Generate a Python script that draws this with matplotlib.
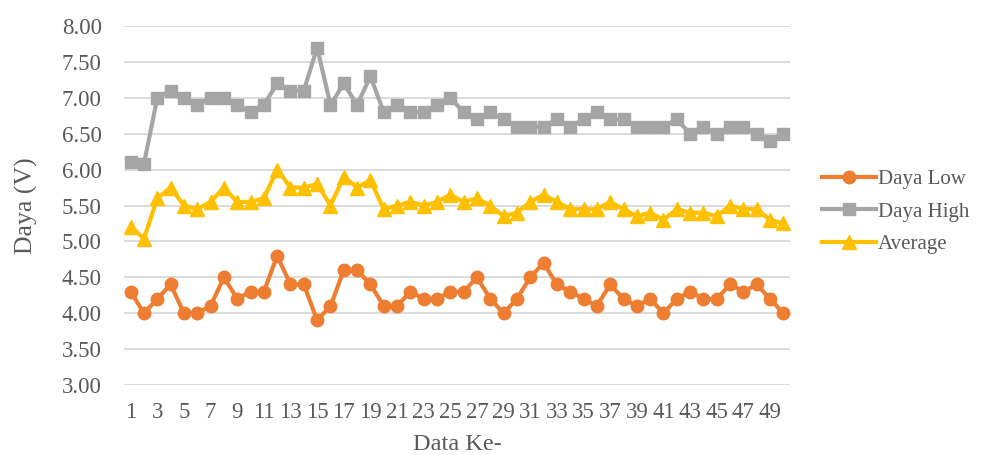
import matplotlib.pyplot as plt
from matplotlib.ticker import MultipleLocator, FormatStrFormatter

# readings for each sample
data_ke = list(range(1, 51))
daya_low = [4.3, 4.0, 4.2, 4.4, 4.0, 4.0, 4.1, 4.5, 4.2, 4.3,
            4.3, 4.8, 4.4, 4.4, 3.9, 4.1, 4.6, 4.6, 4.4, 4.1,
            4.1, 4.3, 4.2, 4.2, 4.3, 4.3, 4.5, 4.2, 4.0, 4.2,
            4.5, 4.7, 4.4, 4.3, 4.2, 4.1, 4.4, 4.2, 4.1, 4.2,
            4.0, 4.2, 4.3, 4.2, 4.2, 4.4, 4.3, 4.4, 4.2, 4.0]
daya_high = [6.1, 6.08, 7.0, 7.1, 7.0, 6.9, 7.0, 7.0, 6.9, 6.8,
             6.9, 7.2, 7.1, 7.1, 7.7, 6.9, 7.2, 6.9, 7.3, 6.8,
             6.9, 6.8, 6.8, 6.9, 7.0, 6.8, 6.7, 6.8, 6.7, 6.6,
             6.6, 6.6, 6.7, 6.6, 6.7, 6.8, 6.7, 6.7, 6.6, 6.6,
             6.6, 6.7, 6.5, 6.6, 6.5, 6.6, 6.6, 6.5, 6.4, 6.5]
average = [5.2, 5.04, 5.6, 5.75, 5.5, 5.45, 5.55, 5.75, 5.55, 5.55,
           5.6, 6.0, 5.75, 5.75, 5.8, 5.5, 5.9, 5.75, 5.85, 5.45,
           5.5, 5.55, 5.5, 5.55, 5.65, 5.55, 5.6, 5.5, 5.35, 5.4,
           5.55, 5.65, 5.55, 5.45, 5.45, 5.45, 5.55, 5.45, 5.35, 5.4,
           5.3, 5.45, 5.4, 5.4, 5.35, 5.5, 5.45, 5.45, 5.3, 5.25]

plt.rcParams['font.family'] = ['Liberation Serif', 'DejaVu Serif']
text_color = "#595959"

fig = plt.figure(figsize=(9.87, 4.55), dpi=100)
ax = fig.add_axes([124 / 987, 1 - 385 / 455, 666 / 987, 359 / 455])

ax.plot(data_ke, daya_low, color="#ED7D31", lw=3, marker="o", ms=9, label="Daya Low")
ax.plot(data_ke, daya_high, color="#A5A5A5", lw=3, marker="s", ms=8.5, label="Daya High")
ax.plot(data_ke, average, color="#FFC000", lw=3, marker="^", ms=10, label="Average")

ax.set_xlim(0.5, 50.5)
ax.set_ylim(3, 8)
ax.yaxis.set_major_locator(MultipleLocator(0.5))
ax.yaxis.set_major_formatter(FormatStrFormatter("%.2f"))
ax.set_xticks(data_ke[::2])
ax.grid(axis="y", color="#D9D9D9", lw=1.3)
ax.set_axisbelow(True)
for side in ["top", "right", "left", "bottom"]:
    ax.spines[side].set_visible(False)
ax.tick_params(length=0, labelsize=16.5, colors=text_color)
ax.tick_params(axis="y", pad=16)
ax.tick_params(axis="x", pad=12)

ax.set_xlabel("Data Ke-", fontsize=17.5, color=text_color, labelpad=8)
ax.set_ylabel("Daya (V)", fontsize=18.5, color=text_color, labelpad=17)

leg = ax.legend(loc="center left", bbox_to_anchor=(1.035, 0.482), frameon=False,
                fontsize=15, handlelength=2.6, labelspacing=0.62, handletextpad=0.1,
                borderaxespad=0)
for t in leg.get_texts():
    t.set_color(text_color)

fig.savefig("out.png", dpi=100)
